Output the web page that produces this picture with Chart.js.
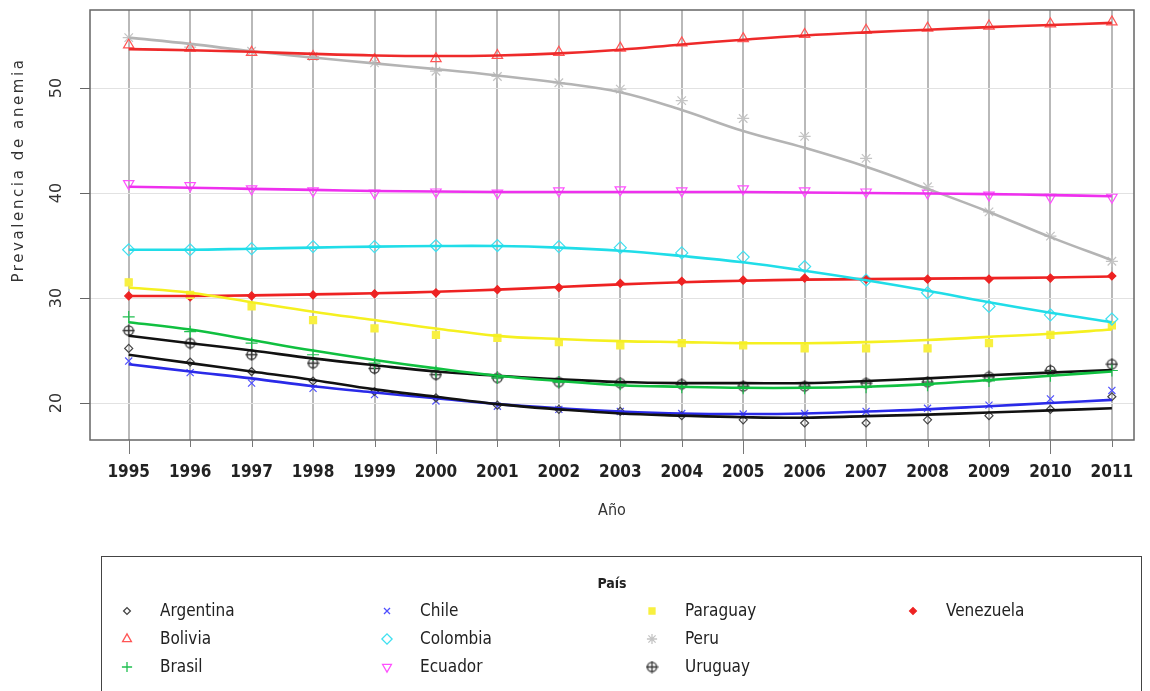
<!DOCTYPE html>
<html>
<head>
<meta charset="utf-8">
<script src="https://cdn.jsdelivr.net/npm/chart.js@4.4.1/dist/chart.umd.min.js"></script>
<style>
  html, body { margin: 0; padding: 0; background: #fff; }
  canvas { display: block; }
</style>
</head>
<body>
<canvas id="myChart" width="1150" height="691"></canvas>
<script>
// Years on the x axis
var years = [1995, 1996, 1997, 1998, 1999, 2000, 2001, 2002, 2003, 2004, 2005, 2006, 2007, 2008, 2009, 2010, 2011];

// Observed values (markers) and smoothed values (lines), per country
var argentinaPts = [25.2, 23.9, 23.0, 22.1, 21.1, 20.5, 19.8, 19.4, 19.2, 18.8, 18.4, 18.1, 18.1, 18.4, 18.8, 19.4, 20.6];
var argentinaFit = [24.6, 23.8, 23.0, 22.2, 21.3, 20.6, 19.9, 19.4, 19.0, 18.8, 18.65, 18.6, 18.75, 18.9, 19.1, 19.3, 19.5];

var boliviaPts = [54.1, 53.8, 53.4, 53.0, 52.7, 52.8, 53.1, 53.4, 53.8, 54.3, 54.7, 55.1, 55.5, 55.7, 55.9, 56.1, 56.3];
var boliviaFit = [53.7, 53.6, 53.45, 53.25, 53.1, 53.05, 53.1, 53.3, 53.65, 54.15, 54.6, 55.0, 55.3, 55.55, 55.8, 56.0, 56.2];

var brasilPts = [28.2, 26.8, 25.7, 24.6, 23.8, 23.0, 22.4, 22.0, 21.8, 21.5, 21.4, 21.4, 21.5, 21.7, 22.1, 22.6, 23.1];
var brasilFit = [27.7, 27.0, 26.0, 25.0, 24.1, 23.3, 22.6, 22.1, 21.7, 21.55, 21.45, 21.45, 21.55, 21.8, 22.2, 22.6, 23.0];

var chilePts = [24.0, 22.9, 21.9, 21.4, 20.8, 20.2, 19.7, 19.4, 19.2, 19.0, 18.95, 19.0, 19.2, 19.5, 19.8, 20.4, 21.2];
var chileFit = [23.7, 23.0, 22.35, 21.6, 21.0, 20.45, 19.9, 19.5, 19.2, 19.0, 18.95, 19.0, 19.2, 19.4, 19.7, 20.0, 20.3];

var colombiaPts = [34.6, 34.6, 34.7, 34.9, 34.9, 35.0, 35.0, 34.9, 34.8, 34.3, 33.9, 33.0, 31.7, 30.5, 29.2, 28.4, 28.0];
var colombiaFit = [34.6, 34.6, 34.7, 34.8, 34.9, 34.95, 34.95, 34.8, 34.5, 34.0, 33.4, 32.6, 31.7, 30.7, 29.6, 28.6, 27.7];

var ecuadorPts = [40.9, 40.7, 40.4, 40.2, 40.0, 40.1, 40.0, 40.2, 40.3, 40.2, 40.4, 40.2, 40.1, 40.0, 39.8, 39.6, 39.6];
var ecuadorFit = [40.6, 40.5, 40.4, 40.3, 40.2, 40.15, 40.1, 40.1, 40.1, 40.1, 40.1, 40.05, 40.0, 39.95, 39.9, 39.8, 39.7];

var paraguayPts = [31.5, 30.3, 29.2, 27.9, 27.1, 26.5, 26.2, 25.8, 25.5, 25.7, 25.5, 25.2, 25.2, 25.2, 25.7, 26.5, 27.4];
var paraguayFit = [31.0, 30.5, 29.6, 28.7, 27.9, 27.1, 26.4, 26.1, 25.9, 25.8, 25.7, 25.7, 25.8, 26.0, 26.3, 26.6, 27.0];

var peruPts = [54.8, 53.9, 53.5, 53.0, 52.4, 51.6, 51.1, 50.5, 49.9, 48.8, 47.1, 45.4, 43.3, 40.6, 38.2, 35.9, 33.5];
var peruFit = [54.8, 54.2, 53.5, 52.9, 52.35, 51.8, 51.2, 50.5, 49.6, 47.9, 45.9, 44.3, 42.5, 40.4, 38.2, 35.8, 33.6];

var uruguayPts = [26.9, 25.7, 24.6, 23.8, 23.3, 22.7, 22.4, 22.0, 21.9, 21.8, 21.6, 21.6, 21.9, 22.0, 22.5, 23.1, 23.7];
var uruguayFit = [26.4, 25.7, 25.0, 24.25, 23.6, 23.0, 22.6, 22.25, 22.0, 21.9, 21.9, 21.9, 22.1, 22.35, 22.65, 22.9, 23.15];

var venezuelaPts = [30.2, 30.1, 30.2, 30.3, 30.4, 30.5, 30.8, 31.0, 31.4, 31.6, 31.7, 31.9, 31.8, 31.8, 31.8, 31.9, 32.1];
var venezuelaFit = [30.2, 30.2, 30.25, 30.35, 30.45, 30.6, 30.8, 31.05, 31.3, 31.5, 31.65, 31.75, 31.8, 31.85, 31.9, 31.95, 32.05];

var countries = ["Argentina", "Bolivia", "Brasil", "Chile", "Colombia", "Ecuador", "Paraguay", "Peru", "Uruguay", "Venezuela"];
var pointSeries = [argentinaPts, boliviaPts, brasilPts, chilePts, colombiaPts, ecuadorPts, paraguayPts, peruPts, uruguayPts, venezuelaPts];
var fitSeries = [argentinaFit, boliviaFit, brasilFit, chileFit, colombiaFit, ecuadorFit, paraguayFit, peruFit, uruguayFit, venezuelaFit];

var narrowFont = "'DejaVu Sans Condensed', 'Liberation Sans', sans-serif";

//Circle with a plus inside, used for Uruguay
function circlePlus() {
    var c = document.createElement("canvas");
    c.width = 13;
    c.height = 13;
    var g = c.getContext("2d");
    g.strokeStyle = "#333";
    g.lineWidth = 1.3;
    g.beginPath();
    g.arc(6.5, 6.5, 4.6, 0, Math.PI * 2);
    g.stroke();
    g.beginPath();
    g.moveTo(6.5, 0.5); g.lineTo(6.5, 12.5);
    g.moveTo(0.5, 6.5); g.lineTo(12.5, 6.5);
    g.stroke();
    return c;
}

//Marker and line look for each country
var looks = {
    Argentina: { line: "#111111", edge: "#444444", fill: "rgba(0,0,0,0)", style: "rectRot", r: 4, rot: 0 },
    Bolivia:   { line: "#ee2a2a", edge: "#ff5555", fill: "rgba(0,0,0,0)", style: "triangle", r: 6, rot: 0 },
    Brasil:    { line: "#10c040", edge: "#20c050", fill: "rgba(0,0,0,0)", style: "cross", r: 6, rot: 0 },
    Chile:     { line: "#2a2ae8", edge: "#5050ff", fill: "rgba(0,0,0,0)", style: "crossRot", r: 5, rot: 0 },
    Colombia:  { line: "#20dde8", edge: "#40e0f0", fill: "rgba(0,0,0,0)", style: "rectRot", r: 6, rot: 0 },
    Ecuador:   { line: "#ee30ee", edge: "#ff50ff", fill: "rgba(0,0,0,0)", style: "triangle", r: 6, rot: 180 },
    Paraguay:  { line: "#f5f020", edge: "#f8f040", fill: "#f8f040", style: "rect", r: 5, rot: 0 },
    Peru:      { line: "#b4b4b4", edge: "#c4c4c4", fill: "rgba(0,0,0,0)", style: "star", r: 6, rot: 0 },
    Uruguay:   { line: "#111111", edge: "#333333", fill: "rgba(0,0,0,0)", style: circlePlus(), r: 6, rot: 0 },
    Venezuela: { line: "#ee2222", edge: "#ee2222", fill: "#ee2222", style: "rectRot", r: 4, rot: 0 }
};

function toXY(arr) {
    var out = [];
    for (var i = 0; i < years.length; i++) {
        out.push({ x: years[i], y: arr[i] });
    }
    return out;
}

var datasets = [];
countries.forEach(function (name, i) {
    var lk = looks[name];
    datasets.push({
        label: name,
        data: toXY(pointSeries[i]),
        showLine: false,
        pointStyle: lk.style,
        pointRadius: lk.r,
        pointRotation: lk.rot,
        pointBorderColor: lk.edge,
        pointBackgroundColor: lk.fill,
        pointBorderWidth: 1.2,
        order: 1
    });
    datasets.push({
        label: name + " (suavizado)",
        data: toXY(fitSeries[i]),
        borderColor: lk.line,
        borderWidth: 2.6,
        pointRadius: 0,
        tension: 0.4,
        fill: false,
        order: 0
    });
});

//Draws the frame, ticks, rotated y labels, axis titles and legend
var decorations = {
    id: "decorations",
    afterDraw: function (chart) {
        var ctx = chart.ctx;
        var a = chart.chartArea;
        var xs = chart.scales.x;
        var ys = chart.scales.y;

        ctx.save();
        //Frame
        ctx.strokeStyle = "#666";
        ctx.lineWidth = 1.5;
        ctx.strokeRect(a.left, a.top, a.right - a.left, a.bottom - a.top);

        //x ticks, longer every five years
        ctx.strokeStyle = "#777";
        ctx.lineWidth = 1;
        xs.ticks.forEach(function (t) {
            var px = Math.round(xs.getPixelForValue(t.value)) + 0.5;
            var len = t.value % 5 === 0 ? 14 : 7;
            ctx.beginPath();
            ctx.moveTo(px, a.bottom);
            ctx.lineTo(px, a.bottom + len);
            ctx.stroke();
        });

        //y labels, rotated
        ctx.fillStyle = "#333";
        ctx.font = "16px 'DejaVu Sans'";
        ctx.textAlign = "center";
        ctx.textBaseline = "middle";
        ys.ticks.forEach(function (t) {
            var py = ys.getPixelForValue(t.value);
            ctx.save();
            ctx.translate(57, py);
            ctx.rotate(-Math.PI / 2);
            ctx.fillText(String(t.value), 0, 0);
            ctx.restore();
        });

        //y title
        ctx.save();
        ctx.translate(19, 170);
        ctx.rotate(-Math.PI / 2);
        ctx.font = "15px 'DejaVu Sans'";
        ctx.letterSpacing = "2.6px";
        ctx.fillStyle = "#333";
        ctx.fillText("Prevalencia de anemia", 0, 0);
        ctx.restore();

        //x title
        ctx.font = "16px " + narrowFont;
        ctx.fillStyle = "#333";
        ctx.fillText("Año", 612, 511);

        //Legend box
        ctx.strokeStyle = "#444";
        ctx.lineWidth = 1;
        ctx.strokeRect(101.5, 556.5, 1040, 150);

        ctx.font = "bold 14px " + narrowFont;
        ctx.fillStyle = "#222";
        ctx.fillText("País", 612, 584);

        var cols = [["Argentina", "Bolivia", "Brasil"], ["Chile", "Colombia", "Ecuador"], ["Paraguay", "Peru", "Uruguay"], ["Venezuela"]];
        var colX = [127, 387, 652, 913];
        var rowY = [611, 639, 667];
        ctx.font = "17px " + narrowFont;
        ctx.textAlign = "left";
        cols.forEach(function (col, c) {
            col.forEach(function (name, r) {
                var lk = looks[name];
                ctx.fillStyle = lk.fill;
                ctx.strokeStyle = lk.edge;
                ctx.lineWidth = 1.3;
                if (Chart.helpers && Chart.helpers.drawPoint) {
                    Chart.helpers.drawPoint(ctx, {
                        pointStyle: lk.style,
                        radius: lk.r * 0.85,
                        rotation: lk.rot,
                        borderWidth: 1.3
                    }, colX[c], rowY[r]);
                }
                ctx.fillStyle = "#222";
                ctx.fillText(name, colX[c] + 33, rowY[r] + 1);
            });
        });
        ctx.restore();
    }
};

var chart = new Chart("myChart", {
    type: "line",
    data: { datasets: datasets },
    options: {
        responsive: false,
        animation: false,
        layout: { padding: { left: 0, right: 16, top: 10, bottom: 0 } },
        plugins: {
            legend: { display: false },
            tooltip: { enabled: false },
            title: { display: false }
        },
        scales: {
            x: {
                type: "linear",
                min: 1994.37,
                max: 2011.36,
                afterFit: function (s) {
                    s.height = 251;
                    s.paddingLeft = 0;
                    s.paddingRight = 0;
                },
                border: { display: false },
                grid: { color: "#b9b9b9", lineWidth: 2, drawTicks: false },
                ticks: {
                    stepSize: 1,
                    includeBounds: false,
                    autoSkip: false,
                    maxRotation: 0,
                    padding: 22,
                    color: "#222",
                    font: { family: narrowFont, size: 17, weight: "bold" },
                    callback: function (v) { return String(v); }
                }
            },
            y: {
                min: 16.48,
                max: 57.43,
                afterFit: function (s) { s.width = 90; },
                border: { display: false },
                grid: { color: "#e2e2e2", lineWidth: 1, tickColor: "#666", tickLength: 10 },
                ticks: {
                    stepSize: 10,
                    includeBounds: false,
                    display: false
                }
            }
        }
    },
    plugins: [decorations]
});
</script>
</body>
</html>
